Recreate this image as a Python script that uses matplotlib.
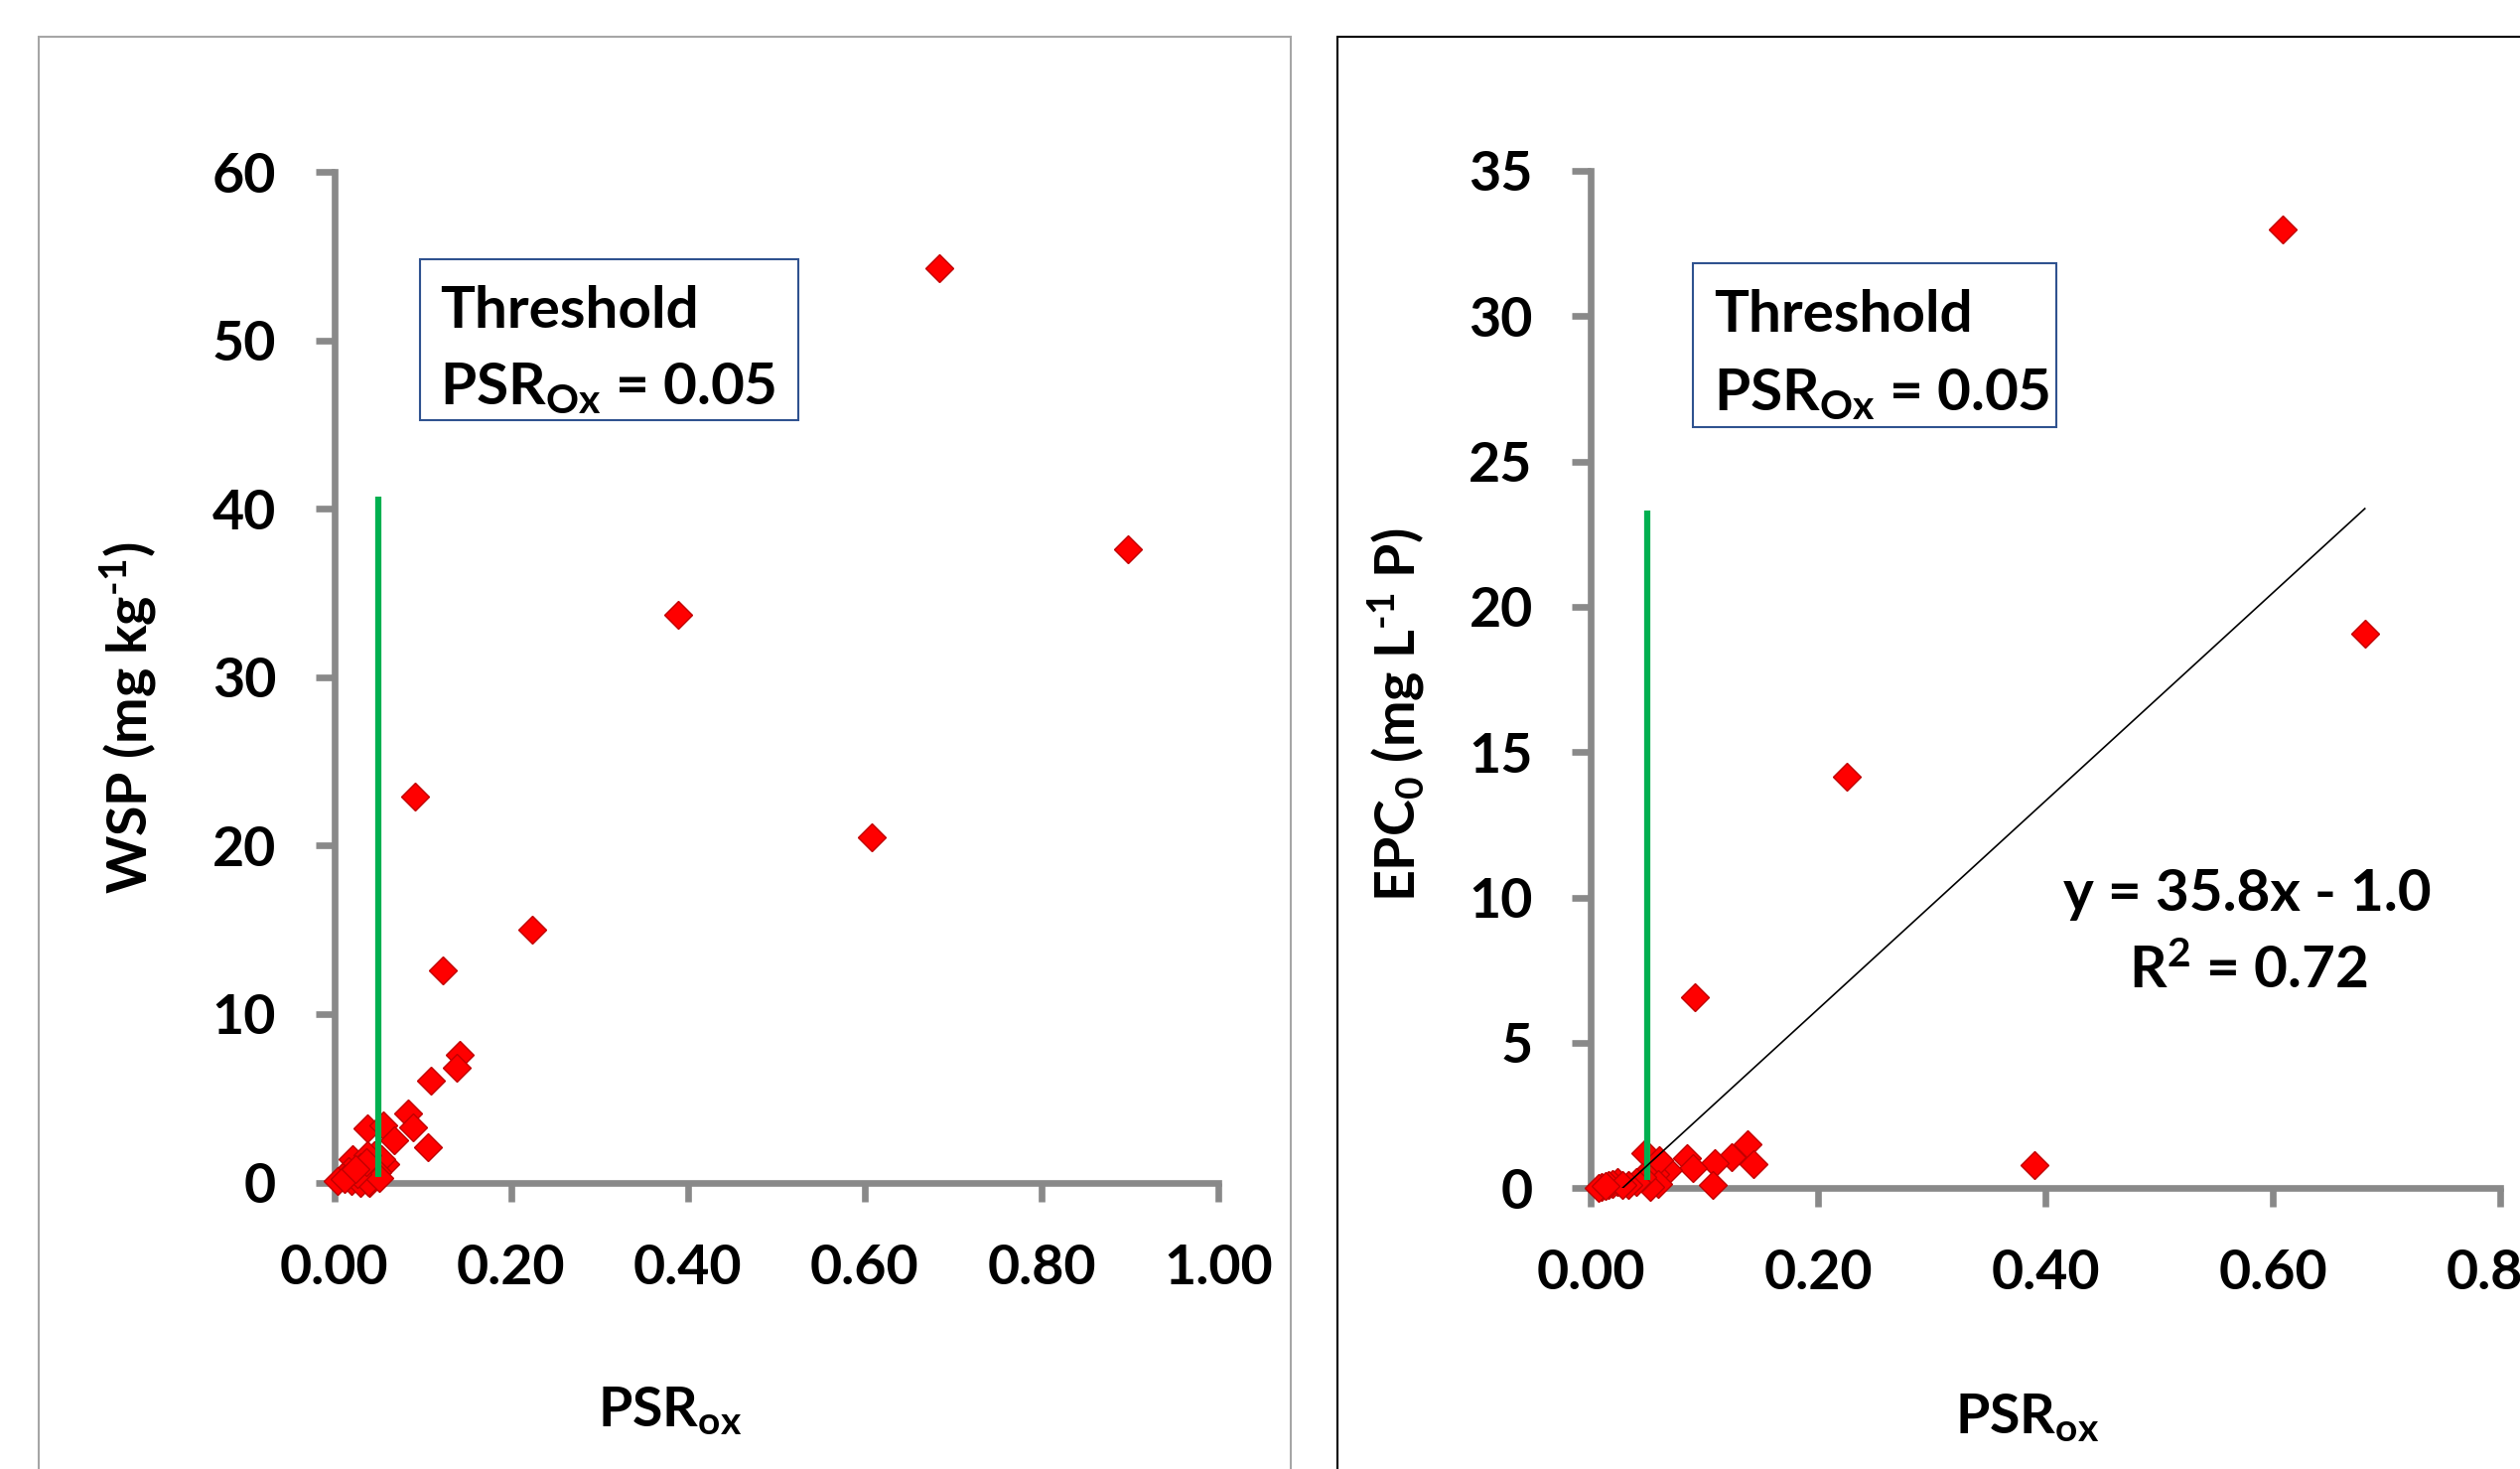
import matplotlib
matplotlib.use("Agg")
import matplotlib.pyplot as plt
from matplotlib.patches import Rectangle
import numpy as np

# ---------------- data ----------------
wsp_psr = [0.684, 0.898, 0.389, 0.091, 0.608, 0.224, 0.123, 0.142, 0.139, 0.109,
           0.084, 0.089, 0.106, 0.038, 0.056, 0.068, 0.058, 0.045, 0.053, 0.021,
           0.038, 0.030, 0.016, 0.049, 0.040, 0.010, 0.004, 0.020, 0.030, 0.039,
           0.051, 0.026, 0.036, 0.012, 0.024]
wsp_val = [54.3, 37.6, 33.7, 22.9, 20.5, 15.0, 12.6, 7.6, 6.8, 6.06,
           4.1, 3.3, 2.1, 3.2, 3.4, 2.5, 1.1, 1.6, 1.4, 1.4,
           1.6, 0.9, 0.7, 0.6, 0.0, 0.3, 0.1, 0.1, 0.0, 0.05,
           0.25, 0.5, 1.2, 0.2, 0.8]

epc_psr = [0.609, 0.681, 0.225, 0.092, 0.390, 0.138, 0.143, 0.124, 0.109, 0.107,
           0.085, 0.090, 0.048, 0.068, 0.057, 0.060, 0.059, 0.052, 0.045, 0.040,
           0.033, 0.024, 0.019, 0.016, 0.010, 0.007, 0.028, 0.013]
epc_val = [32.97, 19.07, 14.17, 6.57, 0.78, 1.5, 0.83, 1.08, 0.88, 0.1,
           1.05, 0.68, 1.22, 0.61, 0.5, 0.96, 0.16, 0.05, 0.38, 0.2,
           0.1, 0.2, 0.15, 0.1, 0.05, 0.0, 0.12, 0.08]

threshold = 0.05
green_top_wsp = 40.7
green_top_epc = 23.3
slope, intercept = 35.8, -1.0

wsp_yticks = [0, 10, 20, 30, 40, 50, 60]
wsp_xticks = [0.0, 0.2, 0.4, 0.6, 0.8, 1.0]
epc_yticks = [0, 5, 10, 15, 20, 25, 30, 35]
epc_xticks = [0.0, 0.2, 0.4, 0.6, 0.8]

# ---------------- style ----------------
FONT = "Lato"
plt.rcParams["font.family"] = [FONT, "DejaVu Sans"]
plt.rcParams["font.weight"] = "bold"
plt.rcParams["mathtext.fontset"] = "custom"
plt.rcParams["mathtext.rm"] = "Lato:bold"
plt.rcParams["mathtext.it"] = "Lato:bold"
plt.rcParams["mathtext.bf"] = "Lato:bold"
plt.rcParams["mathtext.default"] = "rm"

W, H = 2538, 1479
DPI = 100
fig = plt.figure(figsize=(W / DPI, H / DPI), dpi=DPI)
fig.patch.set_facecolor("white")

FS = 40
FSB = 42
MS = 14
SPINE = "#898989"
RED = "#FF0000"
EDGE = "#C00000"
GREEN = "#00B050"
BOXC = "#2F528F"


def px(x0, y0, x1, y1):
    """pixel box (top-left origin) -> figure fraction [l, b, w, h]"""
    return [x0 / W, 1 - y1 / H, (x1 - x0) / W, (y1 - y0) / H]


# panel frames
fig.add_artist(Rectangle((39 / W, -0.05), (1300 - 39) / W, 1.05 - 37 / H,
                         transform=fig.transFigure, fill=False,
                         edgecolor="#A6A6A6", linewidth=1.5))
fig.add_artist(Rectangle((1347 / W, -0.05), 1.0, 1.05 - 37 / H,
                         transform=fig.transFigure, fill=False,
                         edgecolor="#000000", linewidth=1.5))


def style_axes(ax, xticks, yticks, xmax, ymax):
    ax.set_xlim(0, xmax)
    ax.set_ylim(0, ymax)
    for s in ["top", "right"]:
        ax.spines[s].set_visible(False)
    for s in ["left", "bottom"]:
        ax.spines[s].set_color(SPINE)
        ax.spines[s].set_linewidth(4.8)
        ax.spines[s].set_capstyle("projecting")
    ax.set_xticks(xticks)
    ax.set_yticks(yticks)
    ax.set_xticklabels([f"{t:.2f}" for t in xticks])
    ax.set_yticklabels([f"{t:g}" for t in yticks])
    ax.tick_params(direction="out", length=14, width=4.8, color=SPINE,
                   labelsize=FS)
    ax.tick_params(axis="x", pad=30)
    ax.tick_params(axis="y", pad=28)
    for lab in ax.get_xticklabels() + ax.get_yticklabels():
        lab.set_fontweight("bold")
    ax.set_facecolor("none")


# ---------------- left panel ----------------
ax1 = fig.add_axes(px(336.5, 173, 1227, 1190.5))
style_axes(ax1, wsp_xticks, wsp_yticks, 1.0, 60)
ax1.plot(wsp_psr, wsp_val, linestyle="none", marker="D", markersize=MS,
         markerfacecolor=RED, markeredgecolor=EDGE, markeredgewidth=1.0,
         clip_on=False, zorder=3)
ax1.plot([threshold, threshold], [0.3, green_top_wsp], color=GREEN,
         linewidth=4.5, solid_capstyle="butt", zorder=4)
ax1.set_xlabel(r"PSR$_{\mathrm{ox}}$", fontsize=FS, fontweight="bold")
ax1.xaxis.set_label_coords(0.38, -0.2, transform=ax1.transAxes)
ax1.set_ylabel(r"WSP (mg kg$^{\text{-1}}$)", fontsize=FS, fontweight="bold")
ax1.yaxis.set_label_coords(-0.198, 0.46)

# threshold box left
fig.add_artist(Rectangle((423 / W, 1 - 423 / H), (804 - 423) / W, (423 - 261) / H,
                         transform=fig.transFigure, fill=False,
                         edgecolor=BOXC, linewidth=1.5))
fig.text(443 / W, 1 - 314 / H, "Threshold", fontsize=FSB, fontweight="bold",
         ha="left", va="center")
fig.text(443 / W, 1 - 391 / H, r"PSR$_{\mathrm{Ox}}$ = 0.05", fontsize=FSB,
         fontweight="bold", ha="left", va="center")

# ---------------- right panel ----------------
ax2 = fig.add_axes(px(1602, 172, 1602 + 0.8 * 1145, 1196.3))
style_axes(ax2, epc_xticks, epc_yticks, 0.8, 35)
ax2.plot(epc_psr, epc_val, linestyle="none", marker="D", markersize=MS,
         markerfacecolor=RED, markeredgecolor=EDGE, markeredgewidth=1.0,
         clip_on=False, zorder=3)
ax2.plot([threshold, threshold], [0.3, green_top_epc], color=GREEN,
         linewidth=4.5, solid_capstyle="butt", zorder=4)
xs = np.array([-intercept / slope, max(epc_psr)])
ax2.plot(xs, slope * xs + intercept, color="black", linewidth=1.2, zorder=5)
ax2.text(0.578, 10.1, "y = 35.8x - 1.0", fontsize=FSB, fontweight="bold",
         ha="center", va="center")
ax2.text(0.578, 7.45, r"R$^{2}$ = 0.72", fontsize=FSB, fontweight="bold",
         ha="center", va="center")
ax2.set_xlabel(r"PSR$_{\mathrm{ox}}$", fontsize=FS, fontweight="bold")
ax2.xaxis.set_label_coords(0.48, -0.2, transform=ax2.transAxes)
ax2.set_ylabel(r"EPC$_{\mathrm{0}}$ (mg L$^{\text{-1}}$ P)", fontsize=FS,
               fontweight="bold")
ax2.yaxis.set_label_coords(-0.18, 0.465)

fig.add_artist(Rectangle((1705 / W, 1 - 430 / H), (2071 - 1705) / W, (430 - 265) / H,
                         transform=fig.transFigure, fill=False,
                         edgecolor=BOXC, linewidth=1.5))
fig.text(1726 / W, 1 - 317 / H, "Threshold", fontsize=FSB, fontweight="bold",
         ha="left", va="center")
fig.text(1726 / W, 1 - 396 / H, r"PSR$_{\mathrm{Ox}}$ = 0.05", fontsize=FSB,
         fontweight="bold", ha="left", va="center")

fig.savefig("out.png", dpi=DPI, facecolor="white")
